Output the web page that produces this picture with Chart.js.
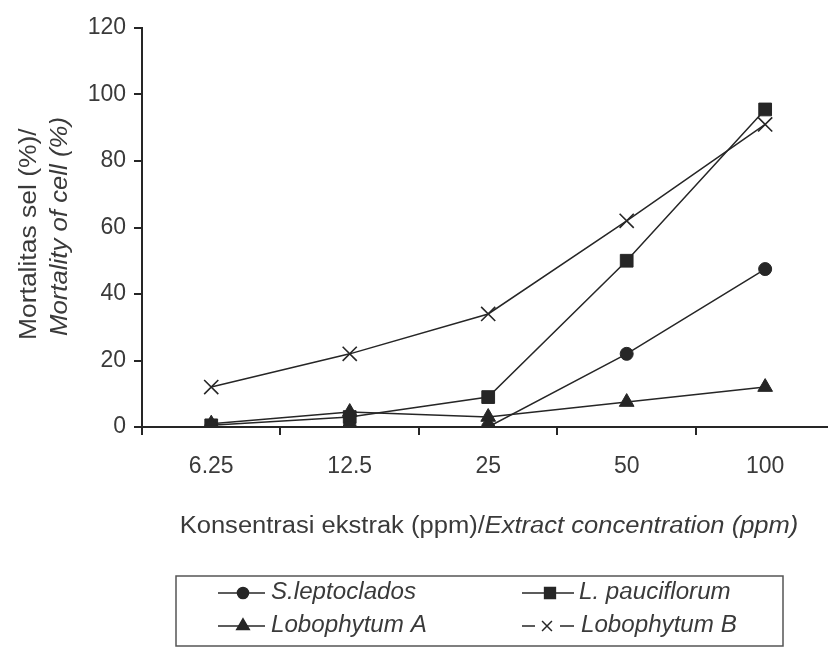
<!DOCTYPE html>
<html>
<head>
<meta charset="utf-8">
<script src="https://cdn.jsdelivr.net/npm/chart.js@4.4.0/dist/chart.umd.min.js"></script>
<style>
  html, body { margin: 0; padding: 0; background: #fff; overflow: hidden; }
  #wrap { width: 828px; height: 649px; position: relative; overflow: hidden; }
  #c { display: block; }
</style>
</head>
<body>
<div id="wrap"><canvas id="c" width="846" height="649"></canvas></div>
<script>
const categories = ['6.25', '12.5', '25', '50', '100'];
const sLeptoclados = [0, 0, 0, 22, 47.5];
const lPauciflorum = [0.5, 3, 9, 50, 95.5];
const lobophytumA = [1, 4.5, 3, 7.5, 12];
const lobophytumB = [12, 22, 34, 62, 91];
const seriesNames = ['S.leptoclados', 'L. pauciflorum', 'Lobophytum A', 'Lobophytum B'];
const yTickValues = [0, 20, 40, 60, 80, 100, 120];
const xTitleNormal = 'Konsentrasi ekstrak (ppm)/';
const xTitleItalic = 'Extract concentration (ppm)';
const yTitleNormal = 'Mortalitas sel (%)/';
const yTitleItalic = 'Mortality of cell (%)';

const INK = '#262626';
const TXT = '#3a3a3a';
const FONT = '"Liberation Sans", Arial, sans-serif';

const styles = [
  { pointStyle: 'circle', pointRadius: 6.5 },
  { pointStyle: 'rect', pointRadius: 9 },
  { pointStyle: 'triangle', pointRadius: 8.5 },
  { pointStyle: 'crossRot', pointRadius: 10 }
];
const dataArr = [sLeptoclados, lPauciflorum, lobophytumA, lobophytumB];

const datasets = dataArr.map((d, i) => ({
  label: seriesNames[i],
  data: d,
  borderColor: INK,
  backgroundColor: INK,
  borderWidth: 1.5,
  pointStyle: styles[i].pointStyle,
  pointRadius: styles[i].pointRadius,
  pointBorderWidth: i === 3 ? 1.6 : 1,
  pointBorderColor: INK,
  pointBackgroundColor: INK,
  tension: 0,
  fill: false
}));

function stretchedText(ctx, text, x, y, sx) {
  ctx.save();
  ctx.translate(x, y);
  ctx.scale(sx, 1);
  ctx.fillText(text, 0, 0);
  ctx.restore();
  return ctx.measureText(text).width * sx;
}

const decorPlugin = {
  id: 'decor',
  afterDraw(chart) {
    const ctx = chart.ctx;
    ctx.save();
    ctx.fillStyle = TXT;
    ctx.textBaseline = 'middle';
    ctx.textAlign = 'left';
    const SX = 1.11;
    const fN = '23px ' + FONT, fI = 'italic 23px ' + FONT;
    // X title
    ctx.font = fN;
    const w1 = ctx.measureText(xTitleNormal).width * SX;
    ctx.font = fI;
    const w2 = ctx.measureText(xTitleItalic).width * SX;
    const sx0 = 489 - (w1 + w2) / 2;
    ctx.font = fN; stretchedText(ctx, xTitleNormal, sx0, 527, SX);
    ctx.font = fI; stretchedText(ctx, xTitleItalic, sx0 + w1, 527, SX);

    // Y title (rotated)
    ctx.save();
    ctx.rotate(-Math.PI / 2);
    ctx.font = fN; stretchedText(ctx, yTitleNormal, -340, 30, 1.15);
    ctx.font = fI; stretchedText(ctx, yTitleItalic, -336, 61, 1.12);
    ctx.restore();

    // Legend
    const bx = 176, by = 576, bw = 607, bh = 70;
    ctx.strokeStyle = '#555';
    ctx.lineWidth = 1.5;
    ctx.strokeRect(bx, by, bw, bh);
    const fL = 'italic 23px ' + FONT;
    const items = [
      { x0: 218, x1: 265, mx: 243, y: 593, tx: 271 },
      { x0: 522, x1: 574, mx: 550, y: 593, tx: 579 },
      { x0: 218, x1: 265, mx: 243, y: 626, tx: 271 },
      { x0: 522, x1: 574, mx: 547, y: 626, tx: 581 }
    ];
    items.forEach((it, i) => {
      ctx.strokeStyle = INK;
      ctx.lineWidth = 1.5;
      ctx.beginPath();
      if (i === 3) {
        ctx.moveTo(it.x0, it.y); ctx.lineTo(it.x0 + 13, it.y);
        ctx.moveTo(it.x1 - 14, it.y); ctx.lineTo(it.x1, it.y);
      } else {
        ctx.moveTo(it.x0, it.y); ctx.lineTo(it.x1, it.y);
      }
      ctx.stroke();
      ctx.fillStyle = INK;
      Chart.helpers.drawPoint(ctx, {
        pointStyle: styles[i].pointStyle,
        radius: i === 3 ? 7 : styles[i].pointRadius * 0.85,
        rotation: 0,
        borderWidth: i === 3 ? 1.3 : 1
      }, it.mx, it.y);
      ctx.fillStyle = TXT;
      ctx.font = fL;
      ctx.textAlign = 'left';
      ctx.textBaseline = 'middle';
      stretchedText(ctx, seriesNames[i], it.tx, it.y, 1.05);
    });
    ctx.restore();
  }
};

new Chart(document.getElementById('c'), {
  type: 'line',
  data: { labels: categories, datasets },
  options: {
    responsive: false,
    animation: false,
    layout: { padding: { top: 28, left: 0, right: 0, bottom: 0 } },
    plugins: { legend: { display: false }, tooltip: { enabled: false }, title: { display: false } },
    scales: {
      x: {
        type: 'category',
        offset: true,
        grid: { offset: true, drawOnChartArea: false, drawTicks: true, tickLength: 8, color: INK, lineWidth: 2 },
        border: { display: true, color: INK, width: 2 },
        ticks: { color: TXT, font: { size: 23, family: FONT }, padding: 18 },
        afterFit(s) { s.height = 222; s.paddingLeft = 0; s.paddingRight = 0; }
      },
      y: {
        min: 0,
        max: 120,
        afterBuildTicks(s) { s.ticks = yTickValues.map(v => ({ value: v })); },
        grid: { drawOnChartArea: false, drawTicks: true, tickLength: 8, color: INK, lineWidth: 2 },
        border: { display: true, color: INK, width: 2 },
        ticks: { color: TXT, font: { size: 23, family: FONT }, padding: 8 },
        afterFit(s) { s.width = 142; s.paddingTop = 0; s.paddingBottom = 0; }
      }
    }
  },
  plugins: [decorPlugin]
});
</script>
</body>
</html>
